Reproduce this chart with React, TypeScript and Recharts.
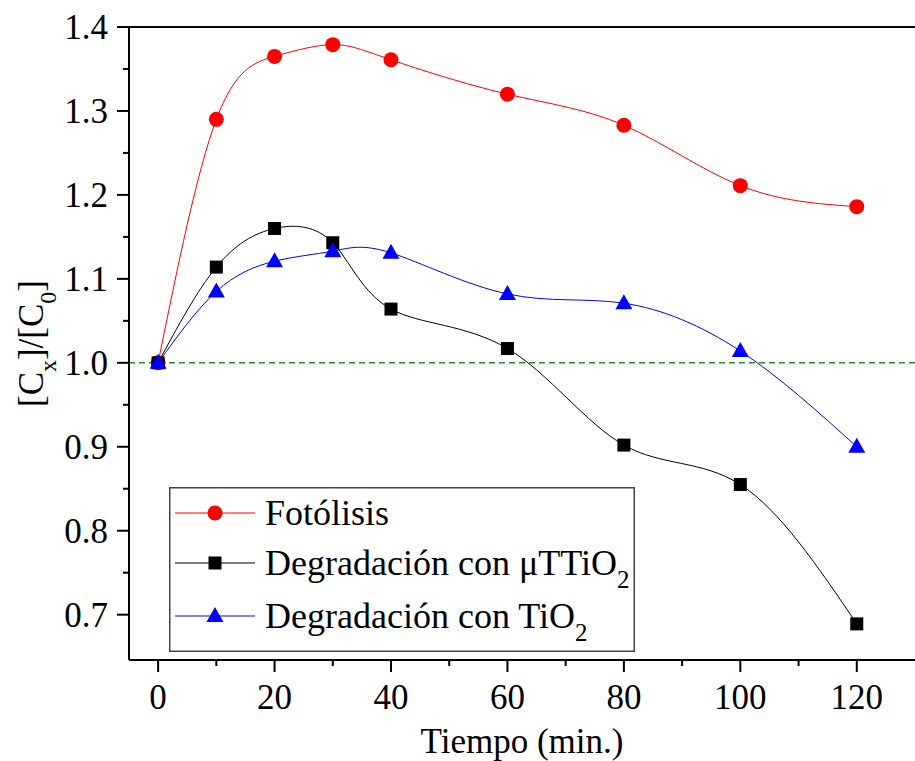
import React from 'react'
import { LineChart, Line, XAxis, YAxis, ReferenceLine, Legend, Label } from 'recharts'

const FONT = '"Liberation Serif", "Times New Roman", serif'

// tiempo (min.) vs [Cx]/[C0]
const tiempo = [0, 10, 20, 30, 40, 60, 80, 100, 120]
const fotolisis = [1.0, 1.29, 1.365, 1.379, 1.361, 1.32, 1.283, 1.211, 1.186]
const muTTiO2 = [1.0, 1.114, 1.16, 1.143, 1.064, 1.017, 0.902, 0.855, 0.689]
const tiO2 = [1.0, 1.085, 1.121, 1.133, 1.131, 1.082, 1.071, 1.014, 0.9]

const xTicks = [0, 10, 20, 30, 40, 50, 60, 70, 80, 90, 100, 110, 120]
const xMajor = [0, 20, 40, 60, 80, 100, 120]
const yTicks = [0.7, 0.75, 0.8, 0.85, 0.9, 0.95, 1.0, 1.05, 1.1, 1.15, 1.2, 1.25, 1.3, 1.35, 1.4]
const yMajor = [0.7, 0.8, 0.9, 1.0, 1.1, 1.2, 1.3, 1.4]

const data = tiempo.map((t, i) => ({
  t,
  foto: fotolisis[i],
  mu: muTTiO2[i],
  tio: tiO2[i],
}))

const series = [
  { key: 'foto', name: 'Fotólisis', sub: '', color: '#ff0000', shape: 'circle' },
  { key: 'mu', name: 'Degradación con μTTiO', sub: '2', color: '#000000', shape: 'square' },
  { key: 'tio', name: 'Degradación con TiO', sub: '2', color: '#0000ff', shape: 'triangle' },
]

const Marker = ({ shape, cx, cy, color }) => {
  if (shape === 'circle') return <circle cx={cx} cy={cy} r={7.5} fill={color} />
  if (shape === 'square') return <rect x={cx - 6.5} y={cy - 6.5} width={13} height={13} fill={color} />
  return <polygon points={`${cx},${cy - 9} ${cx - 8.5},${cy + 6} ${cx + 8.5},${cy + 6}`} fill={color} />
}

const XTick = (props) => {
  const { x, y, payload } = props
  const major = xMajor.includes(payload.value)
  return (
    <g>
      <line x1={x} x2={x} y1={y} y2={y + (major ? 12 : 6)} stroke="#000" strokeWidth={2} />
      {major && (
        <text x={x} y={y + 49} textAnchor="middle" fontSize={35} fontFamily={FONT} fill="#000">
          {payload.value}
        </text>
      )}
    </g>
  )
}

const YTick = (props) => {
  const { x, y, payload } = props
  const major = yMajor.some((m) => Math.abs(m - payload.value) < 1e-6)
  return (
    <g>
      <line x1={x} x2={x - (major ? 12 : 6)} y1={y} y2={y} stroke="#000" strokeWidth={2} />
      {major && (
        <text x={x - 21} y={y + 12} textAnchor="end" fontSize={35} fontFamily={FONT} fill="#000">
          {payload.value.toFixed(1)}
        </text>
      )}
    </g>
  )
}

const YLabel = ({ viewBox }) => {
  const cx = 43
  const cy = viewBox.y + viewBox.height / 2
  return (
    <text
      x={cx}
      y={cy}
      transform={`rotate(-90, ${cx}, ${cy})`}
      textAnchor="middle"
      fontSize={35}
      fontFamily={FONT}
      fill="#000"
    >
      <tspan>[C</tspan>
      <tspan fontSize={24} dy={13}>x</tspan>
      <tspan dy={-13}>]/[C</tspan>
      <tspan fontSize={24} dy={13}>0</tspan>
      <tspan dy={-13}>]</tspan>
    </text>
  )
}

const XLabel = ({ viewBox }) => (
  <text
    x={viewBox.x + viewBox.width / 2}
    y={viewBox.y + 93}
    textAnchor="middle"
    fontSize={35}
    fontFamily={FONT}
    fill="#000"
  >
    Tiempo (min.)
  </text>
)

const rowY = [26, 76, 129]

const LegendBox = () => (
  <svg width={466} height={165} style={{ display: 'block' }}>
    <rect x={0.75} y={0.75} width={464.5} height={163.5} fill="#fff" stroke="#444" strokeWidth={1.5} />
    {series.map((s, i) => (
      <g key={s.key}>
        <line x1={6} x2={86} y1={rowY[i]} y2={rowY[i]} stroke={s.color} strokeWidth={1} />
        <Marker shape={s.shape} cx={46} cy={rowY[i]} color={s.color} />
        <text x={96} y={rowY[i] + 12} fontSize={36} fontFamily={FONT} fill="#000">
          <tspan>{s.name}</tspan>
          {s.sub && (
            <tspan fontSize={25} dy={13}>
              {s.sub}
            </tspan>
          )}
        </text>
      </g>
    ))}
  </svg>
)

export default function App() {
  return (
    <div style={{ position: 'absolute', left: 0, top: 0, background: '#fff' }}>
      <LineChart width={915} height={761} data={data} margin={{ top: 27, right: 0, bottom: 0, left: 0 }}>
        <XAxis
          dataKey="t"
          type="number"
          domain={[-5, 130]}
          ticks={xTicks}
          interval={0}
          tickSize={0}
          tickMargin={0}
          tick={<XTick />}
          height={101}
          axisLine={{ stroke: '#000', strokeWidth: 2 }}
          allowDataOverflow
        >
          <Label content={<XLabel />} />
        </XAxis>
        <YAxis
          type="number"
          domain={[0.646, 1.4]}
          ticks={yTicks}
          interval={0}
          tickSize={0}
          tickMargin={0}
          tick={<YTick />}
          width={129}
          axisLine={{ stroke: '#000', strokeWidth: 2 }}
          allowDataOverflow
        >
          <Label content={<YLabel />} />
        </YAxis>
        <ReferenceLine y={1.4} stroke="#000" strokeWidth={2} />
        <ReferenceLine y={1.0} stroke="#2a8a2a" strokeWidth={1.5} strokeDasharray="6 4" />
        {series.map((s) => (
          <Line
            key={s.key}
            dataKey={s.key}
            name={s.name}
            type="natural"
            stroke={s.color}
            strokeWidth={1}
            dot={(p) => <Marker key={p.index} shape={s.shape} cx={p.cx} cy={p.cy} color={s.color} />}
            activeDot={false}
            isAnimationActive={false}
          />
        ))}
        <Legend
          layout="vertical"
          align="center"
          verticalAlign="middle"
          content={<LegendBox />}
          wrapperStyle={{ left: 169, top: 487, width: 466, height: 165 }}
        />
      </LineChart>
    </div>
  )
}
